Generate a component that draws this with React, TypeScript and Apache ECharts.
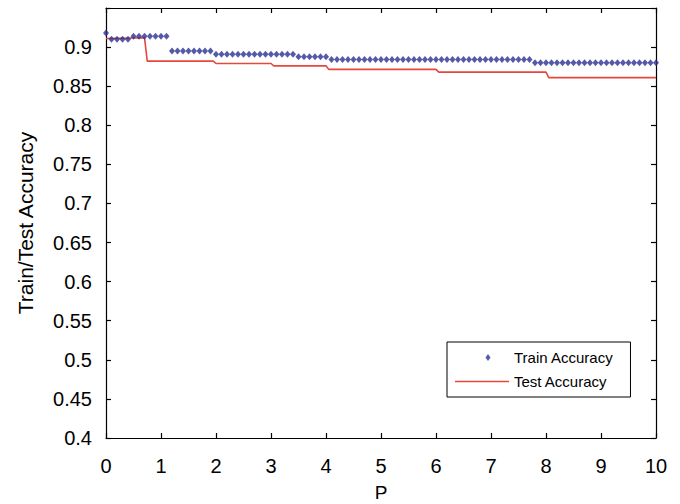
import React, { useEffect, useRef } from "react";
import * as echarts from "echarts";

const trainAcc = [
  0.918,
  0.910, 0.910, 0.910, 0.910,
  0.914, 0.914, 0.914, 0.914, 0.914, 0.914, 0.914,
  0.895, 0.895, 0.895, 0.895, 0.895, 0.895, 0.895, 0.895,
  0.891, 0.891, 0.891, 0.891, 0.891, 0.891, 0.891, 0.891, 0.891, 0.891, 0.891, 0.891, 0.891, 0.891, 0.891,
  0.8875, 0.8875, 0.8875, 0.8875, 0.8875, 0.8875,
  0.884, 0.884, 0.884, 0.884, 0.884, 0.884, 0.884, 0.884, 0.884, 0.884,
  0.884, 0.884, 0.884, 0.884, 0.884, 0.884, 0.884, 0.884, 0.884, 0.884,
  0.884, 0.884, 0.884, 0.884, 0.884, 0.884, 0.884, 0.884, 0.884, 0.884,
  0.884, 0.884, 0.884, 0.884, 0.884, 0.884, 0.884,
  0.880, 0.880, 0.880, 0.880, 0.880, 0.880, 0.880, 0.880, 0.880, 0.880,
  0.880, 0.880, 0.880, 0.880, 0.880, 0.880, 0.880, 0.880, 0.880, 0.880,
  0.880, 0.880, 0.880,
];
const trainP = trainAcc.map((_, i) => i / 10);

// Test accuracy (step line) breakpoints
const testP = [0, 0.7, 0.75, 1.95, 2.0, 3.0, 3.05, 4.0, 4.05, 6.0, 6.05, 8.0, 8.05, 10];
const testAcc = [0.911, 0.912, 0.882, 0.882, 0.879, 0.879, 0.876, 0.876, 0.8715, 0.8715, 0.868, 0.868, 0.861, 0.861];

const xTicks = [0, 10, 1];
const yTicks = [0.4, 0.95, 0.05];

const FONT = "Liberation Sans, Arial, sans-serif";
const BLUE = "#2a3192";
const RED = "#e8473b";

// legend icon: small diamond placed inside a 54x8 box (move points define the box)
const DIAMOND_ICON = "path://M0,0M54,8M30.5,4L33,0.5L35.5,4L33,7.5Z";
const LINE_ICON = "path://M0,0M54,8M0,3.3L54,3.3L54,4.7L0,4.7Z";

export default function App() {
  const ref = useRef<HTMLDivElement>(null);
  useEffect(() => {
    if (!ref.current) return;
    const chart = echarts.init(ref.current, null, { renderer: "svg" });
    const axisCommon = {
      axisLine: { show: true, onZero: false, lineStyle: { color: "#000", width: 1.2 } },
      axisTick: { show: true, inside: true, length: 5, lineStyle: { color: "#000", width: 1.2 } },
      splitLine: { show: false },
    };
    chart.setOption({
      animation: false,
      backgroundColor: "#fff",
      textStyle: { fontFamily: FONT },
      grid: { left: 106, right: 24, top: 8, bottom: 66, containLabel: false, outerBoundsMode: "none" },
      legend: {
        left: 447,
        top: 342,
        orient: "vertical",
        backgroundColor: "#fff",
        borderColor: "#000",
        borderWidth: 1,
        padding: [8, 17, 8, 8],
        itemGap: 9,
        itemWidth: 54,
        itemHeight: 8,
        textStyle: { fontSize: 15, color: "#000", fontFamily: FONT },
        data: [
          { name: "Train Accuracy", icon: DIAMOND_ICON, itemStyle: { color: BLUE } },
          { name: "Test Accuracy", icon: LINE_ICON, itemStyle: { color: RED } },
        ],
      },
      xAxis: [
        {
          type: "value",
          min: xTicks[0],
          max: xTicks[1],
          interval: xTicks[2],
          position: "bottom",
          ...axisCommon,
          axisLabel: { fontSize: 20, color: "#000", margin: 18, fontFamily: FONT },
          name: "P",
          nameLocation: "middle",
          nameGap: 45,
          nameTextStyle: { fontSize: 19, color: "#000", fontFamily: FONT },
        },
        {
          type: "value",
          min: xTicks[0],
          max: xTicks[1],
          interval: xTicks[2],
          position: "top",
          ...axisCommon,
          axisLabel: { show: false },
        },
      ],
      yAxis: [
        {
          type: "value",
          min: yTicks[0],
          max: yTicks[1],
          interval: yTicks[2],
          position: "left",
          ...axisCommon,
          axisLabel: {
            fontSize: 20,
            color: "#000",
            margin: 14,
            fontFamily: FONT,
            formatter: (v: number) => (v > 0.94 ? "" : String(parseFloat(v.toFixed(2)))),
          },
          name: "Train/Test Accuracy",
          nameLocation: "middle",
          nameGap: 70,
          nameTextStyle: { fontSize: 21, color: "#000", fontFamily: FONT },
        },
        {
          type: "value",
          min: yTicks[0],
          max: yTicks[1],
          interval: yTicks[2],
          position: "right",
          ...axisCommon,
          axisLabel: { show: false },
        },
      ],
      series: [
        {
          name: "Test Accuracy",
          type: "line",
          data: testP.map((p, i) => [p, testAcc[i]]),
          symbol: "none",
          lineStyle: { color: RED, width: 1.6 },
          itemStyle: { color: RED },
          z: 2,
        },
        {
          name: "Train Accuracy",
          type: "scatter",
          data: trainP.map((p, i) => [p, trainAcc[i]]),
          symbol: "diamond",
          symbolSize: [6, 7],
          itemStyle: { color: BLUE },
          z: 3,
        },
      ],
    });
    return () => chart.dispose();
  }, []);
  return (
    <div
      ref={ref}
      style={{ position: "absolute", left: 0, top: 0, width: 680, height: 504 }}
    />
  );
}
